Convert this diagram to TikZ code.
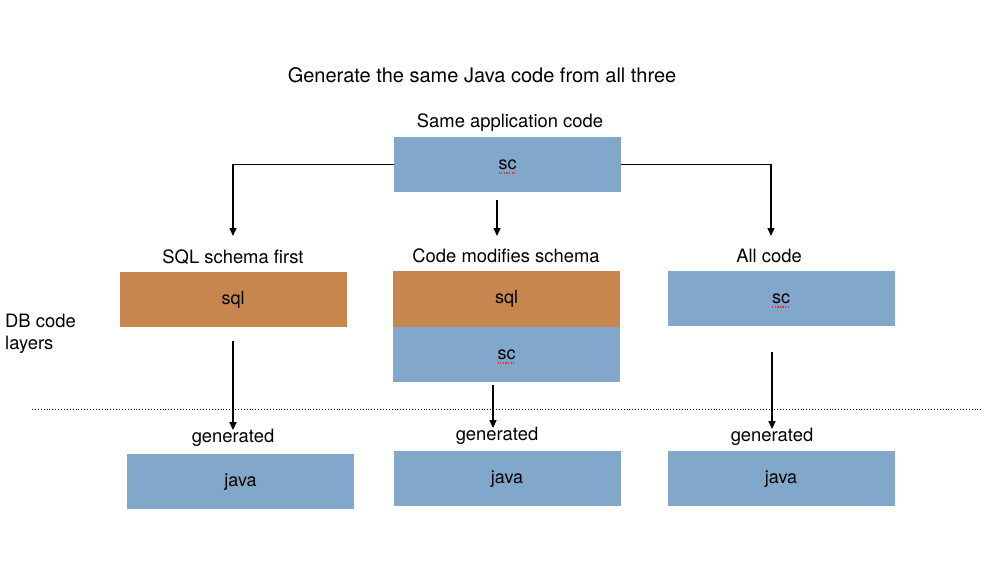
\documentclass[tikz,border=0pt]{standalone}
\usepackage{fontspec}
\setmainfont{TeX Gyre Heros}
\usetikzlibrary{arrows.meta,positioning,calc}
\definecolor{layblue}{HTML}{81A7CB}
\definecolor{layorange}{HTML}{C8864F}
\definecolor{spellred}{HTML}{E8332F}
\begin{document}
\begin{tikzpicture}[
                x=1pt, y=-1pt,
                box/.style={rectangle, minimum width=227pt, minimum height=55.5pt, inner sep=0pt, text height=13pt, text depth=4pt, font=\fontsize{18}{21}\selectfont},
                sc/.style={box, fill=layblue},
                sqlbox/.style={box, fill=layorange},
                lab/.style={font=\fontsize{18.4}{22}\selectfont, inner sep=1pt},
                arr/.style={-{Triangle[length=8pt,width=7pt]}, line width=1.4pt},
                squig/.style={spellred, line width=1.3pt, dash pattern=on 1.3pt off 1.3pt}
            ]
                \useasboundingbox (0,0) rectangle (988,584);

% title
                \node[lab, font=\fontsize{20}{24}\selectfont] (title) at (482,75) {Generate the same Java code from all three};
                \node[lab] (same) at (510,123) {Same application code};

% boxes
                \node[sc] (top) at (507.5,164.5) {sc};

                \node[lab] (labA) at (233,257) {SQL schema first};
                \node[lab] (labB) at (506,256) {Code modifies schema};
                \node[lab] (labC) at (769,256) {All code};

                \node[sqlbox] (sqlA) at (233,299.5) {sql};
                \node[sqlbox] (sqlB) at (506.5,299) {sql};
                \node[sc] (scB) at (506.5,354.5) {sc};
                \node[sc] (scC) at (781,298.5) {sc};

                \node[lab, align=left, anchor=north west] (db) at (4,313) {DB code\\layers};

                \node[lab] (genA) at (233,438) {generated};
                \node[lab] (genB) at (497,436) {generated};
                \node[lab] (genC) at (772,437) {generated};

                \node[sc] (javaA) at (240.5,481.5) {java};
                \node[sc] (javaB) at (507,478.5) {java};
                \node[sc] (javaC) at (781,478.5) {java};

% separator
                \coordinate (sepL) at (32,409);
                \coordinate (sepR) at (983,409);
                \draw[dotted, line width=0.9pt] (sepL) -- (sepR);

% arrows
                \coordinate (inA) at (233,236);
                \coordinate (inB) at (497,236);
                \coordinate (inC) at (771,236);
                \coordinate (outB) at (497,200);
                \draw[arr] (top.west) -| (inA);
                \draw[arr] (outB) -- (inB);
                \draw[arr] (top.east) -| (inC);

                \coordinate (dnA) at (233,341);
                \coordinate (dnB) at (493,385);
                \coordinate (dnC) at (772,352);
                \draw[arr] (dnA) -- ([yshift=-2pt]genA.north);
                \draw[arr] (dnB) -- ([yshift=-2pt]genB.north -| dnB);
                \draw[arr] (dnC) -- ([yshift=-2pt]genC.north);

% spelling marks
                \draw[squig] ([xshift=-9pt,yshift=-4pt]top.base) -- ([xshift=9pt,yshift=-4pt]top.base);
                \draw[squig] ([xshift=-9pt,yshift=-4pt]scB.base) -- ([xshift=9pt,yshift=-4pt]scB.base);
                \draw[squig] ([xshift=-9pt,yshift=-4pt]scC.base) -- ([xshift=9pt,yshift=-4pt]scC.base);

            \end{tikzpicture}
\end{document}
